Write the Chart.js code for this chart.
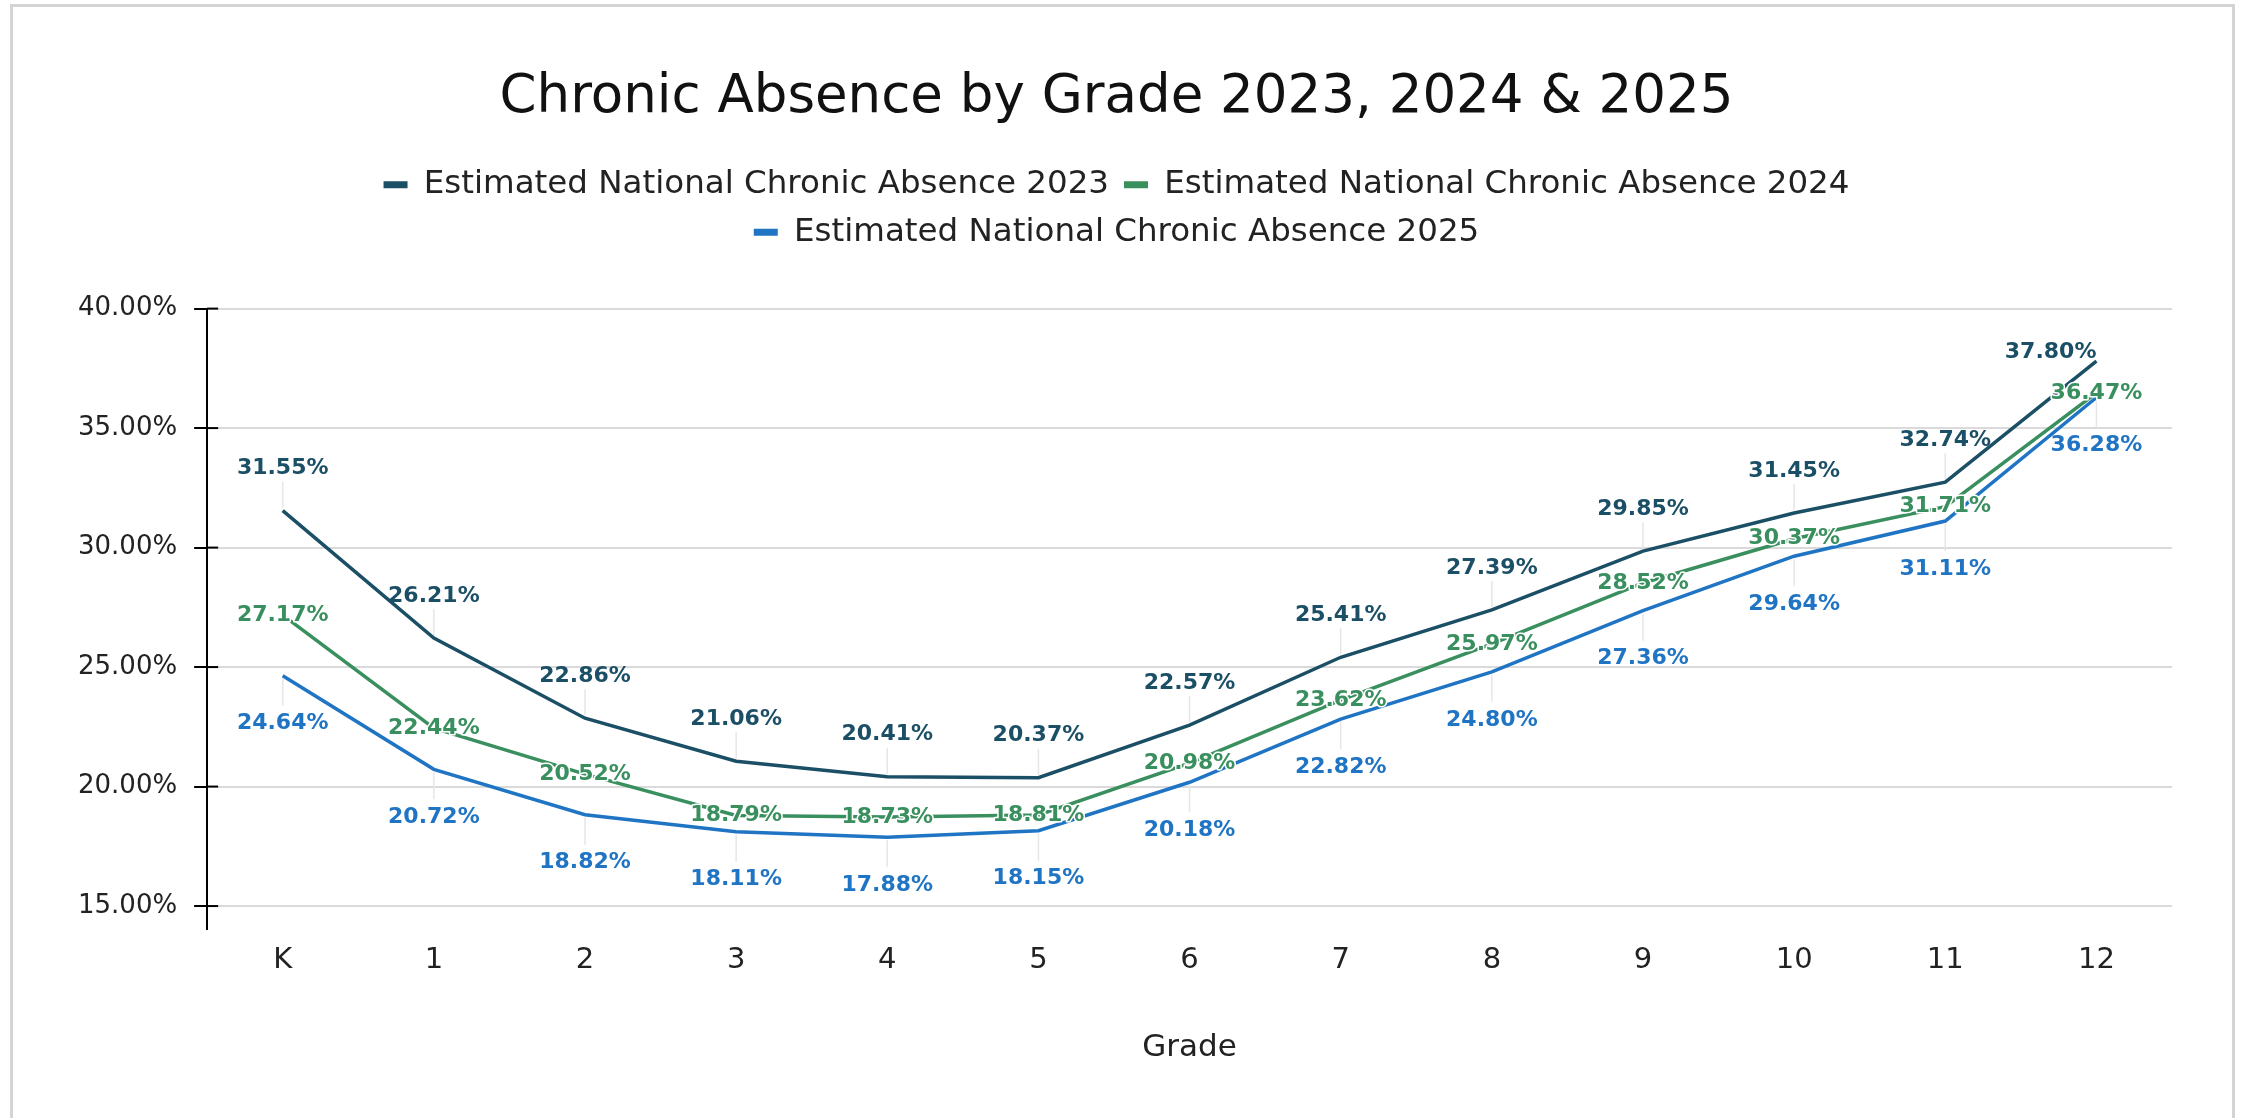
<!DOCTYPE html>
<html>
  <head>
    <title>Chronic Absence by Grade</title>
    <script src="https://cdn.jsdelivr.net/npm/chart.js@4.4.1/dist/chart.umd.min.js"></script>
    <style>
      html, body { margin: 0; padding: 0; background: #fff; overflow: hidden; }
      #frame { position: absolute; left: 10px; top: 4px; width: 2225px; height: 1200px; border: 3px solid #d4d4d4; box-sizing: border-box; }
      #container { position: absolute; left: 0; top: 0; width: 2241px; height: 1118px; }
    </style>
  </head>

  <body>
    <div id="frame"></div>
    <div id="container">
      <canvas id="canvas"></canvas>
    </div>
    <script>
      const grades = ['K', '1', '2', '3', '4', '5', '6', '7', '8', '9', '10', '11', '12'];
      const absence2023 = [31.55, 26.21, 22.86, 21.06, 20.41, 20.37, 22.57, 25.41, 27.39, 29.85, 31.45, 32.74, 37.80];
      const absence2024 = [27.17, 22.44, 20.52, 18.79, 18.73, 18.81, 20.98, 23.62, 25.97, 28.52, 30.37, 31.71, 36.47];
      const absence2025 = [24.64, 20.72, 18.82, 18.11, 17.88, 18.15, 20.18, 22.82, 24.80, 27.36, 29.64, 31.11, 36.28];
      const yTickValues = [15, 20, 25, 30, 35, 40];
      const seriesNames = [
        'Estimated National Chronic Absence 2023',
        'Estimated National Chronic Absence 2024',
        'Estimated National Chronic Absence 2025',
      ];

      const FONT = "'DejaVu Sans', sans-serif";
      const colors = ['#1b4f66', '#3a8f5f', '#1f74c4'];
      // where each series puts its value labels
      const labelModes = ['above', 'center', 'below'];

      function modeFor(di, i, n) {
        const mode = labelModes[di];
        if (mode === 'above' && i === n - 1) return 'aboveLeft';
        return mode;
      }

      // leader lines behind the series, value text on top
      const valueLabels = {
        id: 'valueLabels',
        beforeDatasetsDraw(chart) {
          const ctx = chart.ctx;
          ctx.save();
          ctx.strokeStyle = '#e6e6e6';
          ctx.lineWidth = 1.5;
          chart.data.datasets.forEach((ds, di) => {
            const pts = chart.getDatasetMeta(di).data;
            pts.forEach((pt, i) => {
              const mode = modeFor(di, i, pts.length);
              ctx.beginPath();
              if (mode === 'above') {
                ctx.moveTo(pt.x, pt.y - 3);
                ctx.lineTo(pt.x, pt.y - 29);
              } else if (mode === 'below') {
                ctx.moveTo(pt.x, pt.y + 3);
                ctx.lineTo(pt.x, pt.y + 30);
              }
              ctx.stroke();
            });
          });
          ctx.restore();
        },
        afterDatasetsDraw(chart) {
          const ctx = chart.ctx;
          ctx.save();
          ctx.font = 'bold 22px ' + FONT;
          ctx.textBaseline = 'middle';
          ctx.lineJoin = 'round';
          chart.data.datasets.forEach((ds, di) => {
            const pts = chart.getDatasetMeta(di).data;
            pts.forEach((pt, i) => {
              const text = ds.data[i].toFixed(2) + '%';
              const mode = modeFor(di, i, pts.length);
              let x = pt.x, y = pt.y;
              ctx.textAlign = 'center';
              if (mode === 'above') y -= 42;
              else if (mode === 'below') y += 48;
              else if (mode === 'aboveLeft') { ctx.textAlign = 'right'; y -= 9; }
              if (mode === 'center') {
                ctx.strokeStyle = '#fff';
                ctx.lineWidth = 3;
                ctx.strokeText(text, x, y);
              }
              ctx.fillStyle = ds.borderColor;
              ctx.fillText(text, x, y);
            });
          });
          ctx.restore();
        },
      };

      // black tick marks that cross into the plot on the y axis
      const yTickCross = {
        id: 'yTickCross',
        afterDatasetsDraw(chart) {
          const ctx = chart.ctx;
          const y = chart.scales.y;
          ctx.save();
          ctx.strokeStyle = '#000';
          ctx.lineWidth = 2;
          y.ticks.forEach((t) => {
            const py = y.getPixelForValue(t.value);
            ctx.beginPath();
            ctx.moveTo(chart.chartArea.left, py);
            ctx.lineTo(chart.chartArea.left + 11, py);
            ctx.stroke();
          });
          ctx.restore();
        },
      };

      // extra room between legend and plot
      const legendGap = {
        id: 'legendGap',
        beforeUpdate(chart) {
          const legend = chart.legend;
          if (legend && !legend._gapPatched) {
            const fit = legend.fit;
            legend.fit = function () {
              fit.call(this);
              this.height += 50;
            };
            legend._gapPatched = true;
          }
        },
      };

      const data = {
        labels: grades,
        datasets: [absence2023, absence2024, absence2025].map((values, di) => ({
          label: seriesNames[di],
          data: values,
          borderColor: colors[di],
          backgroundColor: colors[di],
          borderWidth: 3.5,
          pointRadius: 0,
          tension: 0,
        })),
      };

      const options = {
        responsive: true,
        maintainAspectRatio: false,
        animation: false,
        layout: { padding: { top: 14, left: 61, right: 69, bottom: 41 } },
        plugins: {
          title: {
            display: true,
            text: 'Chronic Absence by Grade 2023, 2024 & 2025',
            color: '#111',
            font: { family: FONT, size: 53, weight: 'normal' },
            padding: { top: 52, bottom: 24 },
          },
          legend: {
            position: 'top',
            labels: {
              color: '#222',
              font: { family: FONT, size: 32.5 },
              boxWidth: 24,
              boxHeight: 7,
              padding: 15,
              generateLabels: (chart) =>
                Chart.defaults.plugins.legend.labels.generateLabels(chart).map((l) => ({ ...l, lineWidth: 0 })),
            },
          },
          tooltip: { enabled: false },
        },
        scales: {
          x: {
            offset: true,
            grid: { display: false, drawTicks: false },
            border: { display: false },
            ticks: { color: '#222', font: { family: FONT, size: 29 }, padding: 14, maxRotation: 0 },
            title: {
              display: true,
              text: 'Grade',
              color: '#222',
              font: { family: FONT, size: 31 },
              padding: { top: 38, bottom: 10 },
            },
          },
          y: {
            min: 14.04,
            max: 40,
            border: { display: true, color: '#000', width: 2 },
            grid: { color: '#dadada', lineWidth: 2, tickColor: '#000', tickLength: 13, tickWidth: 2 },
            ticks: {
              color: '#222',
              padding: 17,
              font: { family: FONT, size: 26 },
              callback: (v) => v.toFixed(2) + '%',
            },
            afterBuildTicks: (scale) => {
              scale.ticks = yTickValues.map((v) => ({ value: v }));
            },
          },
        },
      };

      window.onload = () => {
        const ctx = document.getElementById('canvas').getContext('2d');
        new Chart(ctx, {
          type: 'line',
          data: data,
          options: options,
          plugins: [legendGap, valueLabels, yTickCross],
        });
      };
    </script>
  </body>
</html>
